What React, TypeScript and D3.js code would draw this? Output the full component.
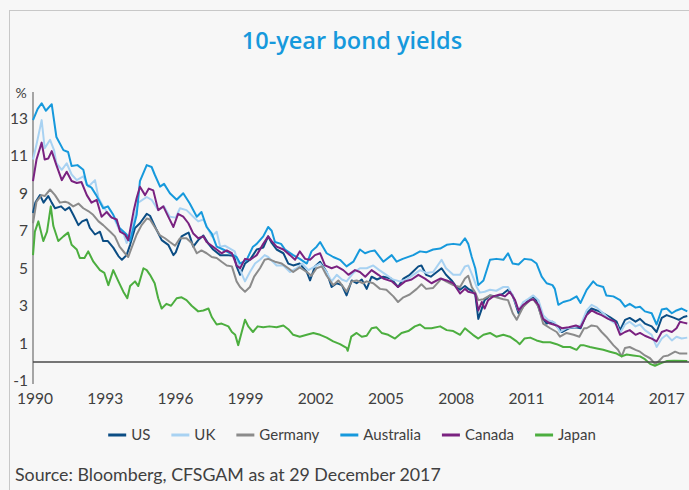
import React, { useEffect, useRef } from "react";
import * as d3 from "d3";

const seriesNames = ["US", "UK", "Germany", "Australia", "Canada", "Japan"];
const seriesColors = ["#0b4d84", "#a8d2f2", "#8b8b8b", "#1699dc", "#7a2280", "#4cae3f"];

const usYields: [number, number][] = [
  [1990.0, 7.95], [1990.1, 8.5], [1990.3, 8.9], [1990.45, 8.5], [1990.65, 8.85], [1990.8, 8.5], [1990.94, 8.2], [1991.2, 8.3], [1991.37, 8.1], [1991.55, 8.25], [1991.72, 7.85], [1991.94, 7.3], [1992.1, 7.5], [1992.3, 7.6], [1992.43, 7.15], [1992.65, 6.8], [1992.86, 6.95], [1993.0, 6.45], [1993.2, 6.45], [1993.43, 6.1], [1993.65, 5.65], [1993.8, 5.45], [1994.0, 5.7], [1994.15, 6.25], [1994.36, 7.15], [1994.57, 7.4], [1994.86, 7.9], [1995.0, 7.8], [1995.28, 7.05], [1995.5, 6.5], [1995.78, 6.25], [1996.0, 5.7], [1996.1, 5.85], [1996.35, 6.7], [1996.56, 6.85], [1996.65, 6.9], [1996.85, 6.15], [1997.06, 6.5], [1997.28, 6.75], [1997.5, 6.3], [1997.7, 6.0], [1998.0, 5.7], [1998.3, 5.7], [1998.6, 5.65], [1998.7, 5.1], [1998.85, 4.65], [1999.06, 5.25], [1999.27, 5.45], [1999.56, 6.0], [1999.84, 6.1], [2000.05, 6.7], [2000.2, 6.35], [2000.41, 6.0], [2000.7, 5.8], [2000.91, 5.25], [2001.12, 5.15], [2001.4, 5.25], [2001.7, 4.8], [2001.84, 4.35], [2002.05, 5.1], [2002.27, 5.35], [2002.55, 4.8], [2002.76, 4.0], [2002.98, 4.2], [2003.2, 4.1], [2003.4, 3.55], [2003.62, 4.35], [2003.83, 4.2], [2004.05, 4.4], [2004.26, 3.9], [2004.47, 4.55], [2004.7, 4.4], [2004.97, 4.55], [2005.3, 4.45], [2005.6, 4.0], [2005.83, 4.45], [2006.1, 4.65], [2006.47, 5.1], [2006.6, 5.15], [2006.8, 4.65], [2007.0, 4.55], [2007.46, 5.0], [2007.65, 4.65], [2007.89, 4.35], [2008.1, 4.0], [2008.25, 3.85], [2008.46, 4.05], [2008.6, 3.9], [2008.75, 3.8], [2008.9, 3.6], [2009.03, 2.3], [2009.18, 2.85], [2009.3, 3.3], [2009.53, 3.55], [2009.8, 3.5], [2010.1, 3.65], [2010.3, 3.85], [2010.5, 3.55], [2010.75, 2.6], [2010.95, 2.95], [2011.15, 3.3], [2011.38, 3.5], [2011.5, 3.3], [2011.74, 2.4], [2011.95, 2.05], [2012.2, 2.15], [2012.35, 1.95], [2012.6, 1.6], [2012.9, 1.8], [2013.2, 1.85], [2013.4, 1.8], [2013.66, 2.6], [2013.87, 2.85], [2014.1, 2.75], [2014.37, 2.6], [2014.65, 2.4], [2014.94, 2.15], [2015.09, 1.7], [2015.3, 2.25], [2015.5, 2.35], [2015.75, 2.15], [2015.94, 2.3], [2016.15, 2.05], [2016.44, 1.9], [2016.65, 1.6], [2016.87, 2.35], [2017.08, 2.5], [2017.4, 2.35], [2017.6, 2.25], [2017.8, 2.4], [2017.96, 2.45],
];

const ukYields: [number, number][] = [
  [1990.0, 10.8], [1990.15, 11.6], [1990.37, 12.9], [1990.5, 11.4], [1990.73, 11.85], [1990.9, 11.3], [1991.0, 10.6], [1991.23, 10.25], [1991.44, 10.6], [1991.65, 10.0], [1991.87, 9.7], [1992.15, 9.9], [1992.36, 9.35], [1992.65, 9.7], [1992.8, 8.75], [1993.0, 8.3], [1993.3, 7.75], [1993.45, 7.7], [1993.65, 7.15], [1993.86, 6.9], [1994.0, 6.35], [1994.15, 6.7], [1994.36, 7.85], [1994.5, 8.5], [1994.86, 8.8], [1995.07, 8.65], [1995.35, 8.1], [1995.6, 8.3], [1995.85, 7.75], [1996.1, 7.7], [1996.28, 8.2], [1996.56, 8.1], [1996.85, 7.75], [1997.06, 7.5], [1997.28, 7.6], [1997.5, 7.05], [1997.64, 6.7], [1997.85, 6.95], [1998.0, 6.15], [1998.2, 6.2], [1998.42, 6.05], [1998.62, 5.9], [1998.85, 4.9], [1999.06, 4.3], [1999.27, 4.8], [1999.49, 5.25], [1999.7, 5.45], [1999.9, 5.7], [2000.05, 5.6], [2000.41, 5.15], [2000.7, 5.15], [2000.98, 4.8], [2001.27, 5.0], [2001.5, 5.25], [2001.77, 4.9], [2001.98, 5.05], [2002.27, 5.25], [2002.55, 4.8], [2002.76, 4.3], [2002.98, 4.65], [2003.2, 4.4], [2003.4, 4.3], [2003.69, 4.75], [2003.97, 5.0], [2004.26, 5.0], [2004.54, 5.15], [2004.8, 4.9], [2005.1, 4.65], [2005.38, 4.4], [2005.68, 4.3], [2005.97, 4.4], [2006.25, 4.65], [2006.54, 4.9], [2006.8, 4.75], [2007.1, 4.8], [2007.46, 5.45], [2007.65, 5.0], [2007.96, 4.65], [2008.25, 4.65], [2008.46, 5.1], [2008.6, 5.15], [2008.8, 4.55], [2008.96, 4.0], [2009.1, 3.7], [2009.3, 3.75], [2009.53, 3.85], [2009.8, 3.8], [2010.1, 4.0], [2010.3, 4.0], [2010.5, 3.55], [2010.75, 2.75], [2010.95, 3.2], [2011.15, 3.35], [2011.38, 3.55], [2011.6, 3.3], [2011.8, 2.5], [2012.0, 2.25], [2012.3, 2.1], [2012.52, 1.6], [2012.8, 1.8], [2013.1, 1.85], [2013.4, 1.95], [2013.66, 2.75], [2013.87, 3.05], [2014.1, 2.9], [2014.37, 2.6], [2014.65, 2.25], [2014.94, 2.0], [2015.09, 1.55], [2015.3, 2.0], [2015.5, 2.15], [2015.75, 1.9], [2015.94, 2.0], [2016.15, 1.7], [2016.44, 1.45], [2016.65, 0.8], [2016.87, 1.25], [2017.08, 1.45], [2017.3, 1.15], [2017.5, 1.35], [2017.72, 1.25], [2017.96, 1.3],
];

const germanyYields: [number, number][] = [
  [1990.0, 7.4], [1990.15, 8.55], [1990.37, 8.9], [1990.5, 8.85], [1990.73, 9.2], [1990.94, 8.9], [1991.15, 8.5], [1991.37, 8.55], [1991.5, 8.5], [1991.72, 8.3], [1991.94, 8.45], [1992.15, 8.2], [1992.36, 8.05], [1992.57, 7.85], [1992.8, 7.5], [1993.0, 7.3], [1993.3, 6.95], [1993.5, 6.7], [1993.7, 6.15], [1993.93, 5.8], [1994.07, 5.6], [1994.2, 6.05], [1994.43, 6.8], [1994.64, 7.3], [1994.86, 7.65], [1995.0, 7.6], [1995.2, 7.2], [1995.43, 6.75], [1995.64, 6.6], [1995.85, 6.4], [1996.07, 6.2], [1996.28, 6.6], [1996.56, 6.6], [1996.78, 6.35], [1997.0, 5.8], [1997.2, 5.95], [1997.42, 5.8], [1997.64, 5.6], [1997.85, 5.55], [1998.06, 5.35], [1998.28, 5.15], [1998.5, 5.1], [1998.7, 4.3], [1998.85, 4.0], [1999.06, 3.75], [1999.27, 4.0], [1999.45, 4.55], [1999.7, 5.0], [1999.9, 5.45], [2000.05, 5.5], [2000.34, 5.35], [2000.63, 5.25], [2000.91, 5.0], [2001.12, 4.8], [2001.4, 5.05], [2001.7, 4.8], [2001.9, 4.6], [2002.12, 5.0], [2002.34, 5.1], [2002.55, 4.6], [2002.83, 4.1], [2003.05, 4.35], [2003.26, 4.0], [2003.4, 3.75], [2003.62, 4.3], [2003.83, 4.35], [2004.1, 4.2], [2004.26, 4.3], [2004.54, 4.2], [2004.83, 3.9], [2005.1, 3.85], [2005.4, 3.5], [2005.6, 3.2], [2005.83, 3.45], [2006.1, 3.6], [2006.4, 3.9], [2006.6, 4.15], [2006.8, 3.9], [2007.1, 3.95], [2007.46, 4.45], [2007.65, 4.3], [2007.96, 4.1], [2008.25, 4.0], [2008.46, 4.45], [2008.6, 4.6], [2008.75, 4.0], [2008.9, 3.7], [2009.03, 3.3], [2009.25, 3.35], [2009.53, 3.55], [2009.8, 3.45], [2010.1, 3.35], [2010.3, 3.3], [2010.5, 2.6], [2010.67, 2.25], [2010.95, 2.95], [2011.25, 3.3], [2011.38, 3.35], [2011.6, 2.95], [2011.8, 2.05], [2012.1, 1.8], [2012.38, 1.6], [2012.52, 1.35], [2012.8, 1.55], [2013.1, 1.45], [2013.35, 1.35], [2013.55, 1.8], [2013.66, 1.8], [2013.87, 1.95], [2014.1, 1.9], [2014.3, 1.6], [2014.5, 1.35], [2014.8, 0.9], [2015.0, 0.65], [2015.16, 0.3], [2015.3, 0.75], [2015.5, 0.8], [2015.75, 0.65], [2015.94, 0.55], [2016.15, 0.35], [2016.37, 0.2], [2016.58, -0.1], [2016.75, 0.05], [2016.94, 0.3], [2017.15, 0.35], [2017.44, 0.55], [2017.65, 0.45], [2017.96, 0.45],
];

const australiaYields: [number, number][] = [
  [1990.0, 12.9], [1990.2, 13.5], [1990.37, 13.8], [1990.55, 13.4], [1990.8, 13.75], [1991.0, 12.0], [1991.3, 11.3], [1991.5, 11.2], [1991.65, 10.45], [1991.9, 10.5], [1992.15, 10.25], [1992.3, 9.45], [1992.5, 9.3], [1992.7, 8.9], [1993.0, 8.2], [1993.2, 8.3], [1993.43, 7.85], [1993.7, 7.15], [1994.0, 6.8], [1994.15, 6.45], [1994.43, 7.85], [1994.57, 9.65], [1994.86, 10.5], [1995.07, 10.4], [1995.2, 10.0], [1995.43, 9.35], [1995.6, 9.5], [1995.85, 9.0], [1996.14, 8.65], [1996.42, 9.0], [1996.7, 8.45], [1997.0, 7.75], [1997.2, 8.0], [1997.42, 7.2], [1997.64, 6.85], [1997.85, 6.15], [1998.13, 6.0], [1998.42, 5.8], [1998.7, 5.6], [1998.85, 5.25], [1999.13, 5.45], [1999.4, 6.15], [1999.56, 6.3], [1999.84, 6.7], [2000.05, 7.2], [2000.2, 7.0], [2000.34, 6.4], [2000.6, 6.3], [2000.77, 6.0], [2001.12, 5.7], [2001.4, 5.5], [2001.7, 5.25], [2001.9, 5.9], [2002.12, 6.15], [2002.27, 6.4], [2002.55, 5.8], [2002.83, 5.6], [2003.12, 5.45], [2003.4, 5.1], [2003.69, 5.35], [2003.97, 6.0], [2004.19, 5.8], [2004.4, 5.9], [2004.6, 5.95], [2004.97, 5.35], [2005.33, 5.7], [2005.54, 5.35], [2005.8, 5.5], [2006.25, 5.7], [2006.54, 5.9], [2006.8, 5.85], [2007.1, 6.0], [2007.4, 6.05], [2007.68, 6.25], [2007.96, 6.3], [2008.25, 6.25], [2008.46, 6.6], [2008.6, 6.3], [2008.75, 5.6], [2008.9, 5.0], [2009.03, 4.1], [2009.25, 4.35], [2009.53, 5.45], [2009.8, 5.5], [2010.1, 5.45], [2010.3, 5.8], [2010.5, 5.25], [2010.75, 5.2], [2011.0, 5.5], [2011.3, 5.45], [2011.52, 5.25], [2011.74, 4.55], [2011.95, 4.2], [2012.2, 4.1], [2012.3, 3.9], [2012.45, 3.05], [2012.66, 3.2], [2012.95, 3.3], [2013.23, 3.5], [2013.4, 3.15], [2013.66, 3.85], [2013.94, 4.3], [2014.1, 4.1], [2014.37, 4.0], [2014.5, 3.55], [2014.8, 3.5], [2015.09, 3.3], [2015.3, 2.95], [2015.5, 3.1], [2015.75, 2.9], [2015.94, 2.95], [2016.15, 2.7], [2016.44, 2.6], [2016.65, 2.0], [2016.87, 2.8], [2017.08, 2.85], [2017.3, 2.6], [2017.5, 2.75], [2017.72, 2.85], [2017.96, 2.7],
];

const canadaYields: [number, number][] = [
  [1990.0, 9.65], [1990.15, 10.8], [1990.37, 11.7], [1990.5, 10.8], [1990.65, 10.85], [1990.8, 11.25], [1991.0, 10.5], [1991.23, 9.7], [1991.44, 10.15], [1991.65, 9.65], [1991.87, 9.55], [1992.07, 9.6], [1992.3, 8.9], [1992.5, 8.5], [1992.72, 8.65], [1992.93, 7.75], [1993.15, 8.0], [1993.36, 7.7], [1993.58, 7.6], [1993.72, 6.95], [1993.93, 6.8], [1994.07, 6.5], [1994.3, 8.05], [1994.43, 8.75], [1994.57, 9.35], [1994.79, 8.9], [1994.95, 9.25], [1995.14, 9.15], [1995.35, 8.1], [1995.57, 8.3], [1995.78, 7.75], [1996.0, 7.2], [1996.2, 7.9], [1996.42, 7.75], [1996.64, 7.4], [1996.85, 6.85], [1997.06, 6.6], [1997.28, 6.7], [1997.42, 6.4], [1997.64, 6.2], [1997.85, 6.0], [1998.06, 5.8], [1998.28, 5.95], [1998.5, 5.8], [1998.7, 5.15], [1998.85, 5.0], [1999.06, 5.5], [1999.27, 5.45], [1999.56, 5.7], [1999.84, 6.3], [2000.05, 6.7], [2000.2, 6.45], [2000.41, 6.15], [2000.7, 6.0], [2000.98, 5.7], [2001.2, 5.45], [2001.4, 5.9], [2001.63, 5.5], [2001.84, 5.45], [2002.05, 5.7], [2002.27, 5.8], [2002.48, 5.15], [2002.76, 5.0], [2002.98, 5.1], [2003.26, 4.9], [2003.48, 4.65], [2003.76, 4.9], [2003.97, 4.8], [2004.2, 4.55], [2004.47, 4.9], [2004.76, 4.65], [2004.97, 4.45], [2005.33, 4.3], [2005.6, 4.0], [2005.9, 4.3], [2006.18, 4.4], [2006.47, 4.65], [2006.75, 4.45], [2007.03, 4.2], [2007.4, 4.45], [2007.68, 4.35], [2007.96, 4.2], [2008.25, 3.65], [2008.46, 3.9], [2008.6, 3.75], [2008.75, 3.7], [2008.9, 3.65], [2009.03, 2.75], [2009.18, 3.2], [2009.3, 2.85], [2009.45, 3.3], [2009.67, 3.5], [2009.95, 3.6], [2010.17, 3.5], [2010.38, 3.75], [2010.6, 3.3], [2010.75, 2.75], [2010.95, 3.05], [2011.25, 3.3], [2011.38, 3.35], [2011.6, 3.05], [2011.8, 2.3], [2012.1, 2.05], [2012.38, 1.95], [2012.6, 1.8], [2012.9, 1.85], [2013.2, 1.95], [2013.4, 1.85], [2013.66, 2.5], [2013.87, 2.75], [2014.1, 2.6], [2014.3, 2.5], [2014.58, 2.3], [2014.87, 2.15], [2015.09, 1.45], [2015.3, 1.6], [2015.5, 1.7], [2015.75, 1.45], [2015.94, 1.55], [2016.15, 1.4], [2016.44, 1.25], [2016.65, 1.1], [2016.87, 1.6], [2017.08, 1.7], [2017.3, 1.6], [2017.5, 1.8], [2017.65, 2.15], [2017.8, 2.1], [2017.96, 2.05],
];

const japanYields: [number, number][] = [
  [1990.0, 5.7], [1990.08, 6.95], [1990.23, 7.5], [1990.44, 6.45], [1990.6, 6.95], [1990.76, 8.3], [1990.87, 7.25], [1991.08, 6.45], [1991.3, 6.7], [1991.5, 6.9], [1991.65, 6.25], [1991.87, 6.0], [1992.0, 5.55], [1992.2, 5.55], [1992.36, 5.9], [1992.58, 5.35], [1992.86, 4.9], [1993.05, 4.75], [1993.22, 4.1], [1993.43, 4.9], [1993.65, 4.3], [1993.86, 3.75], [1994.03, 3.4], [1994.15, 4.05], [1994.36, 4.3], [1994.5, 4.05], [1994.72, 5.0], [1994.86, 4.9], [1995.0, 4.65], [1995.2, 4.2], [1995.35, 3.4], [1995.5, 2.85], [1995.7, 3.1], [1995.9, 3.0], [1996.14, 3.4], [1996.35, 3.45], [1996.56, 3.3], [1996.78, 3.0], [1997.06, 2.7], [1997.28, 2.75], [1997.5, 2.85], [1997.64, 2.4], [1997.85, 2.0], [1998.06, 2.05], [1998.35, 1.9], [1998.5, 1.6], [1998.64, 1.45], [1998.77, 0.9], [1998.92, 1.6], [1999.06, 2.25], [1999.2, 1.9], [1999.4, 1.6], [1999.6, 1.9], [1999.84, 1.85], [2000.1, 1.9], [2000.41, 1.85], [2000.7, 1.95], [2000.91, 1.75], [2001.12, 1.45], [2001.4, 1.35], [2001.7, 1.45], [2001.98, 1.55], [2002.27, 1.45], [2002.55, 1.3], [2002.83, 1.1], [2003.12, 0.95], [2003.4, 0.75], [2003.45, 0.6], [2003.6, 1.35], [2003.83, 1.55], [2004.05, 1.35], [2004.26, 1.4], [2004.47, 1.8], [2004.68, 1.85], [2004.9, 1.55], [2005.18, 1.45], [2005.47, 1.25], [2005.75, 1.55], [2006.04, 1.65], [2006.32, 1.9], [2006.54, 2.0], [2006.75, 1.8], [2007.03, 1.8], [2007.4, 1.9], [2007.68, 1.7], [2007.96, 1.65], [2008.25, 1.45], [2008.46, 1.8], [2008.6, 1.65], [2008.8, 1.45], [2009.03, 1.25], [2009.25, 1.45], [2009.53, 1.55], [2009.8, 1.35], [2010.1, 1.45], [2010.38, 1.35], [2010.67, 1.1], [2010.8, 0.95], [2011.0, 1.25], [2011.25, 1.3], [2011.52, 1.15], [2011.8, 1.05], [2012.1, 1.05], [2012.38, 0.95], [2012.66, 0.8], [2012.95, 0.8], [2013.23, 0.65], [2013.4, 0.9], [2013.52, 0.9], [2013.8, 0.8], [2014.1, 0.72], [2014.37, 0.65], [2014.65, 0.55], [2014.94, 0.45], [2015.16, 0.3], [2015.37, 0.4], [2015.65, 0.35], [2015.94, 0.3], [2016.15, 0.15], [2016.37, -0.1], [2016.58, -0.2], [2016.87, -0.05], [2017.08, 0.05], [2017.4, 0.07], [2017.96, 0.05],
];

const seriesData = [usYields, ukYields, germanyYields, australiaYields, canadaYields, japanYields];

const yTickValues = [13, 11, 9, 7, 5, 3, 1, -1];
const xTickYears = [1990, 1993, 1996, 1999, 2002, 2005, 2008, 2011, 2014, 2017];
const titleText = "10-year bond yields";
const unitText = "%";
const sourceText = "Source: Bloomberg, CFSGAM as at 29 December 2017";

const FONT = "Lato, 'Open Sans', sans-serif";

export default function App() {
  const ref = useRef<SVGSVGElement>(null);

  useEffect(() => {
    const W = 689, H = 490;
    const svg = d3.select(ref.current);
    svg.selectAll("*").remove();

    svg.append("rect").attr("width", W).attr("height", H).attr("fill", "#f7f7f7");
    svg.append("rect")
      .attr("x", 9.5).attr("y", 10.5).attr("width", 720).attr("height", 520)
      .attr("fill", "none").attr("stroke", "#c8c8c8").attr("stroke-width", 1);

    const x = d3.scaleLinear().domain([1990, 2018]).range([33, 688.2]);
    const y = d3.scaleLinear().domain([-1, 13]).range([380.75, 118.25]);

    // title
    svg.append("text")
      .attr("x", 352).attr("y", 49)
      .attr("text-anchor", "middle")
      .attr("font-family", "'Open Sans', sans-serif").attr("font-weight", 600).attr("font-size", 23.5)
      .attr("fill", "#1699dc")
      .text(titleText);

    // y axis
    svg.append("line")
      .attr("x1", 33).attr("x2", 33).attr("y1", 92).attr("y2", 384)
      .attr("stroke", "#8a8a8a").attr("stroke-width", 1.5);
    svg.append("text")
      .attr("x", 21).attr("y", 98).attr("text-anchor", "middle")
      .attr("font-family", FONT).attr("font-size", 14).attr("fill", "#404040")
      .text(unitText);
    svg.append("g").selectAll("text").data(yTickValues).join("text")
      .attr("x", 28).attr("y", (d) => y(d) + 5.5)
      .attr("text-anchor", "end")
      .attr("font-family", FONT).attr("font-size", 15.5).attr("fill", "#404040")
      .text((d) => String(d));

    // x labels
    svg.append("g").selectAll("text").data(xTickYears).join("text")
      .attr("x", (d) => x(d) + 2).attr("y", 404)
      .attr("text-anchor", "middle")
      .attr("font-family", FONT).attr("font-size", 15.5).attr("fill", "#404040")
      .text((d) => String(d));

    // lines
    const line = d3.line<[number, number]>()
      .x((d) => x(d[0]))
      .y((d) => y(d[1]))
      .curve(d3.curveLinear);
    const gl = svg.append("g");
    seriesData.forEach((s, i) => {
      gl.append("path")
        .attr("d", line(s) as string)
        .attr("fill", "none")
        .attr("stroke", seriesColors[i])
        .attr("stroke-width", 2)
        .attr("stroke-linejoin", "round");
    });

    // zero line
    svg.append("line")
      .attr("x1", 33).attr("x2", W).attr("y1", y(0)).attr("y2", y(0))
      .attr("stroke", "#4a4a4a").attr("stroke-width", 1.5);

    // legend
    const lg = svg.append("g");
    const items = seriesNames.map((name, i) => {
      const g = lg.append("g");
      g.append("line").attr("x1", 0).attr("x2", 18).attr("y1", 0).attr("y2", 0)
        .attr("stroke", seriesColors[i]).attr("stroke-width", 3);
      const t = g.append("text").attr("x", 23).attr("y", 5.3)
        .attr("font-family", FONT).attr("font-size", 15).attr("fill", "#404040")
        .text(name);
      const w = 23 + (t.node() as SVGTextElement).getComputedTextLength();
      return { g, w };
    });
    const gap = 21;
    const total = items.reduce((a, b) => a + b.w, 0) + gap * (items.length - 1);
    let cx = 352 - total / 2;
    items.forEach((it) => {
      it.g.attr("transform", `translate(${cx},435)`);
      cx += it.w + gap;
    });

    // source
    svg.append("text")
      .attr("x", 15).attr("y", 481)
      .attr("font-family", FONT).attr("font-size", 17.8).attr("fill", "#404040")
      .text(sourceText);
  }, []);

  return (
    <svg
      ref={ref}
      width={689}
      height={490}
      style={{ position: "absolute", left: 0, top: 0, display: "block" }}
    />
  );
}
